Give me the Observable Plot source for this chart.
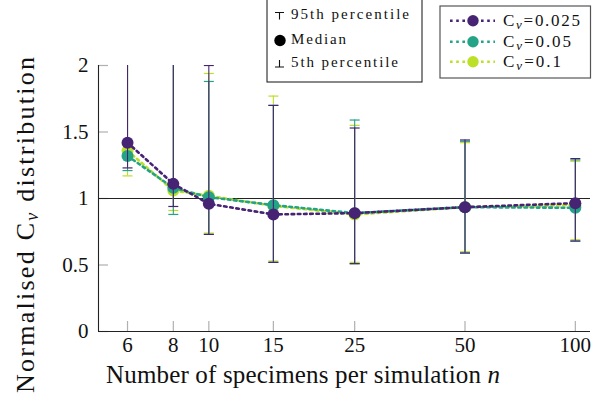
<!DOCTYPE html>
<html><head><meta charset="utf-8">
<script src="https://cdn.jsdelivr.net/npm/d3@7"></script>
<script src="https://cdn.jsdelivr.net/npm/@observablehq/plot@0.6"></script>
<style>
body{margin:0;background:#fff}
</style>
</head><body><div id="chart"></div>
<script>
// ---- data ----
const nValues = [6, 8, 10, 15, 25, 50, 100];
const nTickLabels = ["6", "8", "10", "15", "25", "50", "100"];
const yTicks = [0, 0.5, 1, 1.5, 2];
const yTickLabels = ["0", "0.5", "1", "1.5", "2"];
const seriesKeys = ["0.025", "0.05", "0.1"];
const seriesColors = ["#472374", "#25a386", "#bcdf27"];

const median025 = [1.42, 1.11, 0.96, 0.88, 0.89, 0.935, 0.965];
const median05  = [1.32, 1.08, 1.01, 0.95, 0.89, 0.935, 0.93];
const median01  = [1.36, 1.06, 1.02, 0.945, 0.88, 0.935, 0.95];

const p95_025 = [2.3, 2.3, 2.0, 1.70, 1.53, 1.44, 1.30];
const p95_05  = [2.3, 2.3, 1.88, 1.70, 1.59, 1.43, 1.29];
const p95_01  = [2.3, 2.3, 1.94, 1.77, 1.55, 1.42, 1.28];

const p5_025 = [1.23, 0.94, 0.73, 0.52, 0.51, 0.59, 0.68];
const p5_05  = [1.21, 0.88, 0.73, 0.52, 0.51, 0.59, 0.68];
const p5_01  = [1.17, 0.91, 0.74, 0.53, 0.52, 0.60, 0.69];

const xDomain = [5, 110];
const yDomain = [0, 2];
const refLine = [1];

// ---- build tables ----
const medians = [median025, median05, median01];
const highs = [p95_025, p95_05, p95_01];
const lows = [p5_025, p5_05, p5_01];
const tables = seriesKeys.map((k, s) => nValues.map((n, i) => ({
  n, key: k, med: medians[s][i], lo: lows[s][i], hi: highs[s][i]
})));

const capSymbol = {
  draw(ctx, size) {
    const r = Math.sqrt(size / Math.PI);
    ctx.moveTo(-r, 0); ctx.lineTo(r, 0);
  }
};

const FONT = "'Liberation Serif', serif";
const W = 595, H = 404;
const marks = [
  Plot.tickX(nValues, {x: d => d, stroke: "#b0b0b0", strokeWidth: 1.2, insetTop: H - 65 - 73 - 10}),
  Plot.tickY(yTicks, {y: d => d, stroke: "#b0b0b0", strokeWidth: 1.2, insetRight: W - 98 - 5 - 10}),
  Plot.ruleY(refLine, {stroke: "#222", strokeWidth: 1.1}),
  Plot.text(nValues, {x: d => d, text: (d, i) => nTickLabels[i], frameAnchor: "bottom", lineAnchor: "top", dy: 6, fontSize: 21, fontFamily: FONT, fill: "#111"}),
  Plot.text(yTicks, {y: d => d, text: (d, i) => yTickLabels[i], frameAnchor: "left", textAnchor: "end", lineAnchor: "middle", dx: -10, fontSize: 21, fontFamily: FONT, fill: "#111"}),
];
// draw order: lime, teal, purple
[2, 1, 0].forEach(s => {
  const c = seriesColors[s];
  const t = tables[s];
  marks.push(
    Plot.line(t, {x: "n", y: "med", stroke: c, strokeWidth: 2.6, strokeDasharray: "2.6,3.6", clip: true}),
    Plot.ruleX(t, {x: "n", y1: "lo", y2: "hi", stroke: c, strokeWidth: 1.1, clip: true}),
    Plot.dot(t, {x: "n", y: "hi", symbol: capSymbol, r: 5, stroke: c, fill: "none", strokeWidth: 1.2, clip: true}),
    Plot.dot(t, {x: "n", y: "lo", symbol: capSymbol, r: 5, stroke: c, fill: "none", strokeWidth: 1.2, clip: true}),
    Plot.dot(t, {x: "n", y: "med", r: 6, fill: c, stroke: "none"})
  );
});
marks.push(
  Plot.ruleY([yDomain[0]], {stroke: "#222", strokeWidth: 1.1}),
  Plot.ruleX([xDomain[0]], {stroke: "#222", strokeWidth: 1.1})
);

const chart = Plot.plot({
  width: W, height: H,
  marginLeft: 98, marginRight: 5, marginTop: 65, marginBottom: 73,
  style: `font-family: ${FONT}; font-size: 21px; color: #111; background: #fff;`,
  x: {type: "log", domain: xDomain, axis: null},
  y: {domain: yDomain, axis: null},
  marks
});
document.getElementById("chart").appendChild(chart);

// ---- labels & legends ----
const svg = d3.select(chart);

// x label
const xl = svg.append("text").attr("x", 303).attr("y", 383).attr("text-anchor", "middle")
  .attr("font-size", 25).attr("fill", "#111").attr("textLength", 394).attr("lengthAdjust", "spacing");
xl.append("tspan").text("Number of specimens per simulation ");
xl.append("tspan").attr("font-style", "italic").text("n");

// y label
const yl = svg.append("text").attr("transform", "translate(34,225) rotate(-90)").attr("text-anchor", "middle")
  .attr("font-size", 26).attr("fill", "#111").attr("textLength", 336).attr("lengthAdjust", "spacing");
yl.append("tspan").text("Normalised C");
yl.append("tspan").attr("font-style", "italic").attr("font-size", 18).attr("dy", 4).text("v");
yl.append("tspan").attr("dy", -4).text(" distribution");

// legend 1 (percentile key)
const g1 = svg.append("g").attr("text-anchor", "start");
g1.append("rect").attr("x", 267).attr("y", -2).attr("width", 155).attr("height", 84)
  .attr("fill", "#fff").attr("stroke", "#111").attr("stroke-width", 1);
const keyRows = ["95th percentile", "Median", "5th percentile"];
const keyBase = [19, 44, 67];
const keyWidth = [118, 55, 107];
g1.append("path").attr("d", "M275,12.5H284M279.5,12.5V19.5").attr("stroke", "#111").attr("stroke-width", 1.1).attr("fill", "none");
g1.append("circle").attr("cx", 280).attr("cy", 40.5).attr("r", 5.7).attr("fill", "#000");
g1.append("path").attr("d", "M275,67H284M279.5,60V67").attr("stroke", "#111").attr("stroke-width", 1.1).attr("fill", "none");
keyRows.forEach((t, i) => {
  g1.append("text").attr("x", 291).attr("y", keyBase[i]).attr("font-size", 15).attr("fill", "#111")
    .attr("textLength", keyWidth[i]).attr("lengthAdjust", "spacing").text(t);
});

// legend 2 (series)
const g2 = svg.append("g").attr("text-anchor", "start");
g2.append("rect").attr("x", 440).attr("y", 6).attr("width", 150.5).attr("height", 72)
  .attr("fill", "#fff").attr("stroke", "#555").attr("stroke-width", 1.2);
const legY = [20.7, 41.7, 61.7];
const legWidth = [77, 68, 58];
seriesKeys.forEach((k, s) => {
  const y = legY[s];
  g2.append("line").attr("x1", 450).attr("x2", 495).attr("y1", y).attr("y2", y)
    .attr("stroke", seriesColors[s]).attr("stroke-width", 2.6).attr("stroke-dasharray", "2.6,3.6");
  g2.append("circle").attr("cx", 473).attr("cy", y).attr("r", 5.7).attr("fill", seriesColors[s]);
  const t = g2.append("text").attr("x", 503).attr("y", y + 5.5).attr("font-size", 17).attr("fill", "#111")
    .attr("textLength", legWidth[s]).attr("lengthAdjust", "spacing");
  t.append("tspan").text("C");
  t.append("tspan").attr("font-style", "italic").attr("font-size", 13).attr("dy", 3).text("v");
  t.append("tspan").attr("dy", -3).text("=" + k);
});

svg.selectAll("text, tspan").style("font-family", FONT);
</script>
</body></html>
